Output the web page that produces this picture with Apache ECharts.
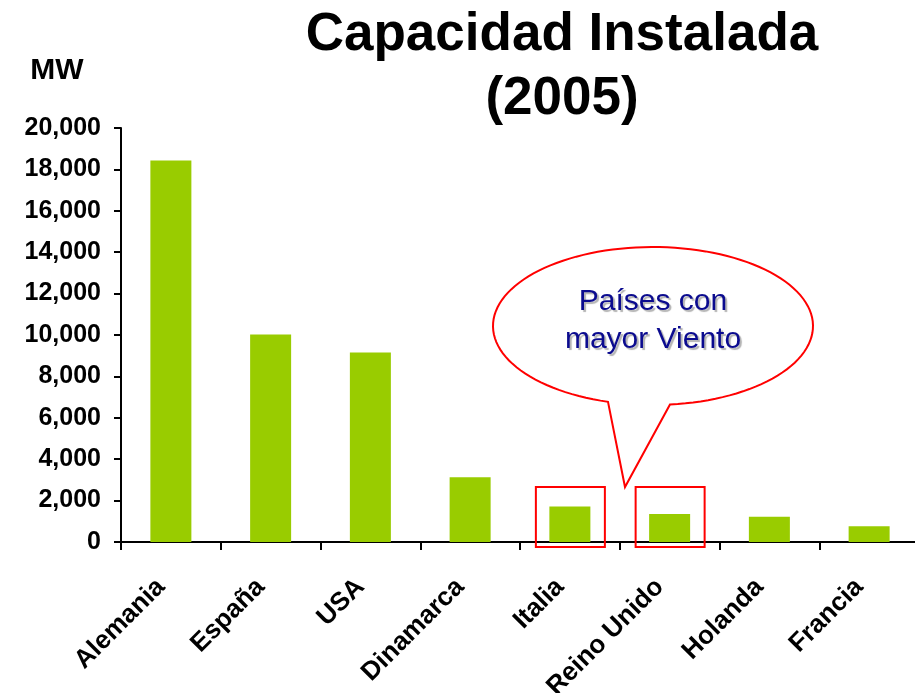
<!DOCTYPE html>
<html lang="es">

<head>
    <meta charset="UTF-8" />
    <title>Capacidad Instalada (2005)</title>
    <script src="https://cdn.jsdelivr.net/npm/echarts@6/dist/echarts.min.js"></script>
    <style>
        html, body { margin: 0; padding: 0; background: #fff; }
        #main { width: 915px; height: 693px; }
    </style>
</head>

<body>
    <div id="main"></div>

    <script type="text/javascript">
        // Data (MW installed, 2005)
        const countries = ["Alemania", "España", "USA", "Dinamarca", "Italia", "Reino Unido", "Holanda", "Francia"];
        const capacityMW = [18428, 10027, 9149, 3122, 1717, 1353, 1219, 757];
        const yTicks = [0, 2000, 4000, 6000, 8000, 10000, 12000, 14000, 16000, 18000, 20000];
        const highlighted = ["Italia", "Reino Unido"];

        const font = "Arial, 'Liberation Sans', sans-serif";

        let myChart = echarts.init(document.getElementById("main"));

        let options = {
            backgroundColor: "#ffffff",
            animation: false,
            title: {
                text: "Capacidad Instalada\n(2005)",
                left: 557,
                top: -2,
                textAlign: "center",
                textStyle: {
                    fontFamily: font,
                    fontSize: 53,
                    fontWeight: "bold",
                    color: "#000",
                    lineHeight: 64
                }
            },
            grid: {
                left: 121, right: -4, top: 128, bottom: 151,
                containLabel: false,
                outerBoundsMode: "none"
            },
            xAxis: {
                type: "category",
                data: countries,
                axisLine: { lineStyle: { color: "#000", width: 2 } },
                axisTick: { show: true, length: 8, lineStyle: { color: "#000", width: 2 } },
                axisLabel: {
                    rotate: 45,
                    margin: 31,
                    padding: [0, 14, 0, 0],
                    interval: 0,
                    fontFamily: font,
                    fontSize: 26,
                    fontWeight: "bold",
                    color: "#000"
                }
            },
            yAxis: {
                type: "value",
                min: yTicks[0],
                max: yTicks[yTicks.length - 1],
                interval: 2000,
                name: "MW",
                nameLocation: "end",
                nameGap: 42,
                nameTextStyle: {
                    fontFamily: font,
                    fontSize: 30,
                    fontWeight: "bold",
                    color: "#000",
                    align: "center",
                    padding: [0, 128, 0, 0]
                },
                splitLine: { show: false },
                axisLine: { show: true, lineStyle: { color: "#000", width: 2 } },
                axisTick: { show: true, length: 7, lineStyle: { color: "#000", width: 2 } },
                axisLabel: {
                    margin: 20,
                    fontFamily: font,
                    fontSize: 25,
                    fontWeight: "bold",
                    color: "#000",
                    formatter: (v) => v.toLocaleString("en-US")
                }
            },
            series: [
                {
                    name: "MW",
                    type: "bar",
                    data: capacityMW,
                    barWidth: 41,
                    itemStyle: { color: "#99cc00" }
                }
            ]
        };

        myChart.setOption(options);

        // Annotations: red boxes around highlighted bars (anchored to the axis)
        let boxes = highlighted.map((name) => {
            let p = myChart.convertToPixel({ gridIndex: 0 }, [name, 0]);
            return {
                type: "rect",
                shape: { x: p[0] - 34, y: p[1] - 55, width: 69, height: 60 },
                style: { fill: null, stroke: "#ff0000", lineWidth: 2 },
                z: 10
            };
        });

        // Speech bubble: ellipse outline with a tail pointing between the boxes
        const bx = 653, by = 326, rx = 160, ry = 79;
        const tailTip = [625, 487];
        const tStart = Math.atan2(78.6 / ry, 17 / rx);          // right foot of the tail
        const tEnd = Math.atan2(75.8 / ry, -45 / rx) - 2 * Math.PI; // left foot
        let bubblePts = [];
        for (let i = 0; i <= 120; i++) {
            let t = tStart + (tEnd - tStart) * i / 120;
            bubblePts.push([bx + rx * Math.cos(t), by + ry * Math.sin(t)]);
        }
        bubblePts.push(tailTip);

        let bubble = {
            type: "polygon",
            shape: { points: bubblePts },
            style: { fill: "#ffffff", stroke: "#ff0000", lineWidth: 2 },
            z: 10
        };

        let bubbleText = {
            type: "text",
            x: 653,
            y: 321,
            style: {
                text: "Países con\nmayor Viento",
                align: "center",
                verticalAlign: "middle",
                fontFamily: font,
                fontSize: 30,
                lineHeight: 38,
                fill: "#0b0b8f",
                textShadowColor: "rgba(0,0,0,0.3)",
                textShadowOffsetX: 2,
                textShadowOffsetY: 2,
                textShadowBlur: 1
            },
            z: 11
        };

        myChart.setOption({ graphic: boxes.concat([bubble, bubbleText]) });
    </script>
</body>

</html>
